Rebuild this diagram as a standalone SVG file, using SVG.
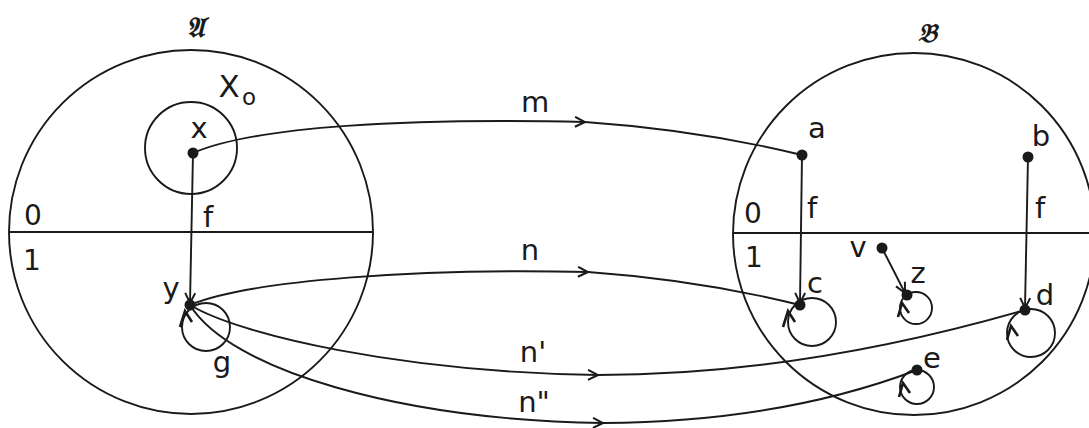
<svg xmlns="http://www.w3.org/2000/svg" width="1089" height="428" viewBox="0 0 1089 428">
<defs>
<marker id="arr" viewBox="0 0 12 12" refX="11" refY="6" markerWidth="12" markerHeight="12" markerUnits="userSpaceOnUse" orient="auto">
<path d="M1,1 L11,6 L1,11" fill="none" stroke="#1a1a1a" stroke-width="2"/>
</marker>
<style>
.ln{fill:none;stroke:#1a1a1a;stroke-width:1.9}
.hk{fill:none;stroke:#1a1a1a;stroke-width:2.6;stroke-linejoin:miter}
.dot{fill:#1a1a1a}
.t{font-family:"DejaVu Sans","Liberation Sans",sans-serif;font-size:29px;fill:#1a1a1a;text-anchor:middle}
.dg{font-family:"DejaVu Sans","Liberation Sans",sans-serif;font-size:28px;fill:#1a1a1a;text-anchor:middle}
.ti{font-family:"DejaVu Serif","DejaVu Sans","Noto Sans",serif;font-size:28px;fill:#1a1a1a;font-style:italic;font-weight:bold;text-anchor:middle}
</style>
</defs>
<rect width="1089" height="428" fill="#ffffff"/>

<g id="setA">
<circle class="ln" cx="191" cy="232" r="182"/>
<line class="ln" x1="9" y1="232" x2="373" y2="232"/>
<text class="ti" x="195" y="37">𝔄</text>
<text class="dg" x="33" y="225">0</text>
<text class="dg" x="32" y="270">1</text>
</g>

<g id="X0">
<circle class="ln" cx="191" cy="148" r="46"/>
<text class="t" x="229" y="97" style="font-size:31px">X</text>
<text class="t" x="249" y="105" style="font-size:23px">o</text>
</g>

<g id="setB">
<circle class="ln" cx="914" cy="234" r="181"/>
<line class="ln" x1="733" y1="233" x2="1089" y2="233"/>
<text class="ti" x="927" y="42" style="font-size:26px">𝔅</text>
<text class="dg" x="753" y="223">0</text>
<text class="dg" x="754" y="267">1</text>
</g>

<g id="connectors">
<path class="ln" d="M193,153 C255,126 410,118 585,122" marker-end="url(#arr)"/>
<path class="ln" d="M585,122 Q700,130 802,155"/>
<path class="ln" d="M190,305 C250,280 420,268 588,272" marker-end="url(#arr)"/>
<path class="ln" d="M588,272 Q700,280 800,305"/>
<path class="ln" d="M190,305 C240,335 400,372 598,375" marker-end="url(#arr)"/>
<path class="ln" d="M598,375 Q800,375 1025,310"/>
<path class="ln" d="M190,305 C230,370 400,420 603,423" marker-end="url(#arr)"/>
<path class="ln" d="M603,423 Q780,422 917,370"/>
<path class="ln" d="M193,153 L190,303" marker-end="url(#arr)"/>
<path class="ln" d="M802,155 L800,303" marker-end="url(#arr)"/>
<path class="ln" d="M1028,157 L1025,308" marker-end="url(#arr)"/>
<path class="ln" d="M882,248 L905,293" marker-end="url(#arr)"/>
<text class="t" x="535" y="112">m</text>
<text class="t" x="530" y="260">n</text>
<text class="t" x="533" y="362">n'</text>
<text class="t" x="534" y="412">n"</text>
<text class="t" x="208" y="227">f</text>
<text class="t" x="812" y="218">f</text>
<text class="t" x="1040" y="218">f</text>
</g>

<g id="loops">
<circle class="ln" cx="206" cy="327" r="24"/>
<path class="hk" d="M180,327 L185,311 L192,322"/>
<text class="t" x="222" y="372">g</text>
<circle class="ln" cx="812" cy="322" r="24"/>
<path class="hk" d="M783,327 L788,311 L795,322"/>
<circle class="ln" cx="916" cy="308" r="16"/>
<path class="hk" d="M898,317 L902,303 L909,313"/>
<circle class="ln" cx="1031" cy="333" r="24"/>
<path class="hk" d="M1007,340 L1011,326 L1018,336"/>
<circle class="ln" cx="917" cy="387" r="17"/>
<path class="hk" d="M899,397 L903,383 L910,393"/>
</g>

<g id="node-x"><circle class="dot" cx="193" cy="153" r="5.5"/><text class="t" x="199" y="138">x</text></g>
<g id="node-y"><circle class="dot" cx="190" cy="305" r="5.5"/><text class="t" x="171" y="298">y</text></g>
<g id="node-a"><circle class="dot" cx="802" cy="155" r="5.5"/><text class="t" x="817" y="138">a</text></g>
<g id="node-b"><circle class="dot" cx="1028" cy="157" r="5.5"/><text class="t" x="1041" y="146">b</text></g>
<g id="node-c"><circle class="dot" cx="800" cy="305" r="5.5"/><text class="t" x="815" y="293">c</text></g>
<g id="node-d"><circle class="dot" cx="1025" cy="310" r="5.5"/><text class="t" x="1045" y="305">d</text></g>
<g id="node-v"><circle class="dot" cx="882" cy="248" r="5.5"/><text class="t" x="858" y="257">v</text></g>
<g id="node-z"><circle class="dot" cx="907" cy="295" r="5.5"/><text class="t" x="918" y="283">z</text></g>
<g id="node-e"><circle class="dot" cx="917" cy="370" r="5.5"/><text class="t" x="932" y="368">e</text></g>
</svg>
